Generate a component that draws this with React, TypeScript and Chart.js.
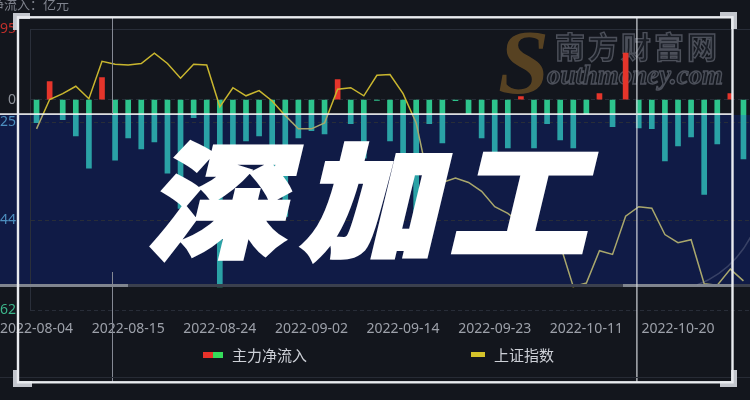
import React, { useEffect, useRef } from 'react';
import { Chart, registerables } from 'chart.js';

Chart.register(...registerables);

const DATES = [
  '2022-08-04', '2022-08-05', '2022-08-08', '2022-08-09', '2022-08-10', '2022-08-11', '2022-08-12',
  '2022-08-15', '2022-08-16', '2022-08-17', '2022-08-18', '2022-08-19', '2022-08-22', '2022-08-23',
  '2022-08-24', '2022-08-25', '2022-08-26', '2022-08-29', '2022-08-30', '2022-08-31', '2022-09-01',
  '2022-09-02', '2022-09-05', '2022-09-06', '2022-09-07', '2022-09-08', '2022-09-09', '2022-09-13',
  '2022-09-14', '2022-09-15', '2022-09-16', '2022-09-19', '2022-09-20', '2022-09-21', '2022-09-22',
  '2022-09-23', '2022-09-26', '2022-09-27', '2022-09-28', '2022-09-29', '2022-09-30', '2022-10-10',
  '2022-10-11', '2022-10-12', '2022-10-13', '2022-10-14', '2022-10-17', '2022-10-18', '2022-10-19',
  '2022-10-20', '2022-10-21', '2022-10-24', '2022-10-25', '2022-10-26', '2022-10-27',
];

// 主力净流入 (亿元)
const MAIN_FLOW = [
  -1.28, 1.0, -1.11, -2.0, -3.78, 1.22, -3.34, -2.11, -2.72, -2.34,
  -4.06, -6.01, -1.0, -2.84, -10.34, -3.67, -2.28, -2.0, -4.23, -6.45,
  -2.11, -1.72, -1.89, 1.11, -1.33, -3.23, -0.05, -2.28, -5.89, -6.56,
  -1.33, -2.39, -0.06, -0.78, -2.11, -3.78, -2.67, 0.17, -2.67, -1.33,
  -2.22, -2.67, -0.78, 0.33, -1.5, 2.56, -1.56, -1.61, -3.39, -2.56,
  -2.06, -5.23, -2.45, 0.33, -3.28,
];

// 上证指数
const SH_INDEX = [
  3189, 3229, 3237, 3247, 3230, 3281, 3277, 3276, 3278, 3292,
  3278, 3258, 3277, 3276, 3219, 3245, 3234, 3241, 3227, 3207,
  3189, 3189, 3197, 3243, 3245, 3234, 3262, 3263, 3237, 3197,
  3114, 3116, 3122, 3116, 3104, 3083, 3074, 3060, 3046, 3041,
  3031, 2974, 2979, 3023, 3018, 3070, 3083, 3081, 3045, 3034,
  3038, 2978, 2976, 2998, 2982,
];

const SERIES_NAMES = ['主力净流入', '上证指数'];
const Y_TICKS = [3.895, 0, -1.25, -6.644, -11.62];
const Y_TICK_LABELS = ['3.895', '0', '-1.25', '-6.644', '-11.62'];
const Y_MIN = -11.62;
const Y_MAX = 3.895;
const IDX_MIN = 2942;
const IDX_MAX = 3325;
const X_LABEL_EVERY = 7;
const Y_AXIS_NAME = '主力净流入：亿元';
const TITLE_CHARS = ['深', '加', '工'];
const WATERMARK_CN = '南方财富网';
const WATERMARK_S = 'S';
const WATERMARK_EN = 'outhmoney.com';

const BAND_TOP = 115;
const BAND_BOTTOM = 284;

function bandGradient(chart: any, outside: string, inside: string) {
  const h = chart.height || 400;
  const g = chart.ctx.createLinearGradient(0, 0, 0, h);
  g.addColorStop(0, outside);
  g.addColorStop(BAND_TOP / h, outside);
  g.addColorStop(BAND_TOP / h, inside);
  g.addColorStop(BAND_BOTTOM / h, inside);
  g.addColorStop(BAND_BOTTOM / h, outside);
  g.addColorStop(1, outside);
  return g;
}

const decorPlugin = {
  id: 'decor',
  beforeDraw(chart: any) {
    const c = chart.ctx;
    c.save();
    c.fillStyle = '#13161d';
    c.fillRect(0, 0, chart.width, chart.height);
    c.fillStyle = '#101b46';
    c.fillRect(0, BAND_TOP, chart.width, BAND_BOTTOM - BAND_TOP);
    c.restore();
  },
  beforeDatasetsDraw(chart: any) {
    const c = chart.ctx;
    c.save();
    // watermark
    c.font = 'italic bold 92px "Liberation Serif"';
    c.textAlign = 'left';
    c.textBaseline = 'alphabetic';
    c.fillStyle = 'rgba(105,78,36,0.8)';
    c.fillText(WATERMARK_S, 498, 93);
    c.font = 'bold 30px "Noto Sans CJK SC"';
    (c as any).letterSpacing = '3px';
    c.fillStyle = 'rgba(28,31,40,0.9)';
    c.strokeStyle = 'rgba(95,99,110,0.75)';
    c.lineWidth = 1.4;
    c.fillText(WATERMARK_CN, 555, 58);
    c.strokeText(WATERMARK_CN, 555, 58);
    (c as any).letterSpacing = '0px';
    c.font = 'italic bold 28px "Liberation Serif"';
    c.fillText(WATERMARK_EN, 547, 84, 176);
    c.strokeText(WATERMARK_EN, 547, 84, 176);
    c.restore();
  },
  afterDraw(chart: any) {
    const c = chart.ctx;
    const W = chart.width;
    c.save();
    // band edges
    c.fillStyle = '#f2f3f6';
    c.fillRect(0, 113.3, 732, 1.6);
    c.fillStyle = '#3b404e';
    c.fillRect(0, BAND_BOTTOM, W, 3);
    c.fillStyle = '#80858f';
    c.fillRect(0, BAND_BOTTOM, 128, 3);
    c.fillRect(623, BAND_BOTTOM, 110, 3);
    // faint circle
    c.strokeStyle = 'rgba(150,156,175,0.3)';
    c.lineWidth = 1.5;
    c.beginPath();
    c.arc(660, 190, 102, 0.25, 1.2);
    c.stroke();
    // thin vertical lines
    c.fillStyle = '#858994';
    c.fillRect(112, 17, 1, 97);
    c.fillRect(112, 272, 1, 110);
    c.fillStyle = '#d0d3d9';
    c.fillRect(636.3, 17, 1.2, 365);
    // faint line near bottom
    c.fillStyle = '#272b35';
    c.fillRect(0, 377, W, 1);

    // big title
    c.fillStyle = '#ffffff';
    c.strokeStyle = '#ffffff';
    c.lineWidth = 5;
    c.lineJoin = 'miter';
    c.font = '900 124px "Noto Sans CJK SC"';
    c.textAlign = 'center';
    c.textBaseline = 'middle';
    const centers = [227, 380, 529];
    TITLE_CHARS.forEach((ch, k) => {
      c.save();
      c.translate(centers[k], 201);
      c.transform(1.1, 0, -0.24, 1, 0, 0);
      c.fillText(ch, 0, 0);
      c.strokeText(ch, 0, 0);
      c.restore();
    });

    // frame corner pieces
    c.fillStyle = '#c3c6cd';
    c.fillRect(13, 13, 17, 6);
    c.fillRect(13, 13, 6, 17);
    c.fillRect(720, 12, 17, 6);
    c.fillRect(731, 12, 6, 17);
    c.fillRect(13, 370, 6, 17);
    c.fillRect(13, 381, 19, 6);
    c.fillRect(731, 370, 6, 17);
    c.fillRect(720, 381, 17, 6);
    // frame
    c.strokeStyle = '#e9ebef';
    c.lineWidth = 2.4;
    c.strokeRect(18, 17.3, 714.5, 365);

    // legend
    const ds = chart.data.datasets;
    c.font = '15px "Noto Sans CJK SC"';
    c.textAlign = 'left';
    c.textBaseline = 'middle';
    c.fillStyle = '#e8322a';
    c.fillRect(203, 352, 10, 6);
    c.fillStyle = '#35dc5a';
    c.fillRect(213, 352, 10, 6);
    c.fillStyle = '#cdd0d7';
    c.fillText(ds[0].label, 232, 355);
    c.fillStyle = '#d4c22a';
    c.fillRect(471, 352, 14, 5);
    c.fillStyle = '#cdd0d7';
    c.fillText(ds[1].label, 494, 355);

    // axis name (cut by the top-left edge)
    c.font = '13px "Noto Sans CJK SC"';
    c.textAlign = 'right';
    c.fillStyle = '#7f838d';
    c.fillText(Y_AXIS_NAME, 69, 4);
    c.restore();
  },
};

export default function App() {
  const ref = useRef<HTMLCanvasElement>(null);
  useEffect(() => {
    document.body.style.margin = '0';
    const canvas = ref.current;
    if (!canvas) return;
    Chart.defaults.font.family = '"Noto Sans", "Noto Sans CJK SC", sans-serif';
    const tickColors = ['#c0302b', '#8d9199', '#4d8fbf', '#4d8fbf', '#3cb48a'];
    const chart = new Chart(canvas, {
      type: 'bar',
      data: {
        labels: DATES,
        datasets: [
          {
            type: 'bar',
            label: SERIES_NAMES[0],
            data: MAIN_FLOW,
            yAxisID: 'y',
            order: 2,
            barThickness: 5,
            backgroundColor: (ctx: any) =>
              ctx.raw >= 0 ? '#e5352b' : bandGradient(ctx.chart, '#2dc48c', '#2aa2a6'),
          },
          {
            type: 'line',
            label: SERIES_NAMES[1],
            data: SH_INDEX,
            yAxisID: 'y1',
            order: 1,
            borderWidth: 1.5,
            pointRadius: 0,
            tension: 0,
            borderColor: (ctx: any) => bandGradient(ctx.chart, '#c9b62e', '#a9a76c'),
          },
        ] as any,
      },
      options: {
        animation: false,
        responsive: true,
        maintainAspectRatio: false,
        layout: { padding: { top: 29, left: 0, right: 0, bottom: 53 } },
        plugins: { legend: { display: false }, tooltip: { enabled: false } },
        scales: {
          x: {
            grid: { display: false, drawTicks: false },
            border: { display: false },
            ticks: {
              autoSkip: false,
              maxRotation: 0,
              minRotation: 0,
              padding: 10,
              color: '#9da1aa',
              font: { size: 14 },
              callback: (_v: any, i: number) => (i % X_LABEL_EVERY === 0 ? DATES[i] : ''),
            },
            afterFit: (s: any) => {
              s.paddingLeft = 0;
              s.paddingRight = 0;
            },
          },
          y: {
            position: 'left',
            min: Y_MIN,
            max: Y_MAX,
            afterBuildTicks: (s: any) => {
              s.ticks = Y_TICKS.map((v) => ({ value: v }));
            },
            afterFit: (s: any) => {
              s.width = 30;
              s.paddingTop = 0;
              s.paddingBottom = 0;
            },
            grid: { color: '#282d38', lineWidth: 1, drawTicks: false },
            border: {
              display: true,
              color: '#2a2f3a',
              dash: (ctx: any) => (ctx.index === 0 ? [] : [4, 3]),
            } as any,
            ticks: {
              padding: 14,
              font: { size: 14 },
              color: (ctx: any) => tickColors[ctx.index] || '#8d9199',
              callback: (_v: any, i: number) => Y_TICK_LABELS[i],
            },
          },
          y1: {
            display: false,
            position: 'right',
            min: IDX_MIN,
            max: IDX_MAX,
            grid: { display: false },
          },
        },
      } as any,
      plugins: [decorPlugin],
    });
    return () => chart.destroy();
  }, []);
  return (
    <div style={{ position: 'fixed', left: 0, top: 0, width: 750, height: 400 }}>
      <canvas ref={ref} />
    </div>
  );
}
